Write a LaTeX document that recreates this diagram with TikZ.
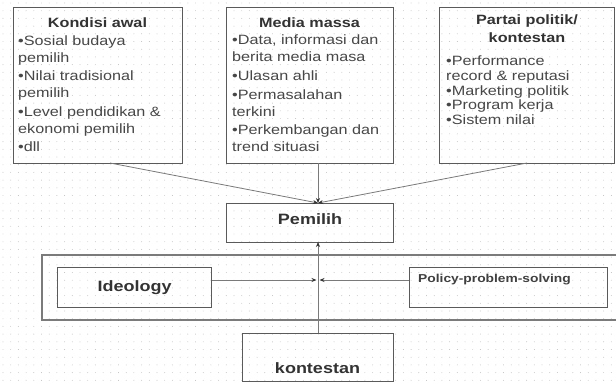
\documentclass[tikz,border=0pt]{standalone}
\usepackage{fontspec}
\setmainfont[FakeStretch=1.2]{Liberation Sans}
\usetikzlibrary{arrows.meta}
\definecolor{boxline}{HTML}{5A5A5A}
\definecolor{linkline}{HTML}{7A7A7A}
\definecolor{griddot}{HTML}{BDBDBD}
\tikzset{
  frame/.style={draw=boxline, line width=1.2pt, inner sep=0pt},
  band/.style={draw=boxline!80, line width=1.6pt},
  title/.style={inner sep=0pt, font=\fontsize{13.5}{18}\selectfont\bfseries, align=center, text=black!80},
  body/.style={inner sep=0pt, font=\fontsize{13.5}{17}\selectfont, align=left, text=black!72},
  label/.style={inner sep=0pt, font=\fontsize{15}{18}\selectfont\bfseries, text=black!80},
  link/.style={draw=linkline, line width=0.8pt, -{Stealth[length=5pt,width=4pt,black!80]}},
}
\begin{document}
\begin{tikzpicture}[x=1pt,y=-1pt]
\useasboundingbox (0,0) rectangle (616,383);
\fill[white] (0,0) rectangle (616,383);
% dotted paper
\foreach \i in {0,...,80} {
  \foreach \j in {0,...,49} {
    \fill[griddot] (3+7.7*\i,3+7.7*\j) circle (0.45pt);
  }
}

% upper boxes
\node[frame, minimum width=169pt, minimum height=156pt, anchor=north west] (kondisi) at (13,7) {};
\node[frame, minimum width=167pt, minimum height=156pt, anchor=north west] (media) at (226,7) {};
\node[frame, minimum width=175pt, minimum height=156pt, anchor=north west] (partai) at (439,7) {};

\node[title, anchor=base] (kondisiT) at (97.5,27.5) {Kondisi awal};
\node[body, anchor=north west] (kondisiB) at (18,35.5)
  {•Sosial budaya\\pemilih\\[1.5pt]•Nilai tradisional\\pemilih\\[1.5pt]•Level pendidikan \&\\ekonomi pemilih\\[1.5pt]•dll};

\node[title, anchor=base] (mediaT) at (309.5,27.5) {Media massa};
\node[body, anchor=north west] (mediaB) at (232,34.5)
  {•Data, informasi dan\\berita media masa\\[2pt]•Ulasan ahli\\[2pt]•Permasalahan\\terkini\\[1.5pt]•Perkembangan dan\\trend situasi};

\node[title, anchor=north] (partaiT) at (527,14.5) {Partai politik/\\kontestan};
\node[body, anchor=north west, font=\fontsize{13.5}{14.8}\selectfont] (partaiB) at (446,55.5)
  {•Performance\\record \& reputasi\\•Marketing politik\\•Program kerja\\•Sistem nilai};

% central column
\node[frame, minimum width=167pt, minimum height=39pt, anchor=north west] (pemilih) at (226,203) {};
\node[label] (pemilihT) at (310,219) {Pemilih};

\draw[band] (618,255) -- (42,255) -- (42,320) -- (618,320);
\node[frame, minimum width=154pt, minimum height=40pt, anchor=north west] (ideology) at (57,267) {};
\node[label] (ideologyT) at (ideology.center) {Ideology};
\node[frame, minimum width=198pt, minimum height=40pt, anchor=north west] (policy) at (409,267) {};
\node[inner sep=0pt, font=\fontsize{11.5}{13}\selectfont\bfseries, text=black!75, anchor=west] (policyT) at (418,280) {Policy-problem-solving};

\node[frame, minimum width=151pt, minimum height=48pt, anchor=north west] (kontestan) at (242,333) {};
\node[label, anchor=base] (kontestanT) at (317.5,373) {kontestan};

% connectors
\coordinate (top) at (318,203);
\coordinate (mid) at (318,280);
\draw[link] (110,163) -- (top);
\draw[link] (318,163) -- (top);
\draw[link] (527,163) -- (top);
\draw[link] (318,333) -- (318,242);
\draw[link] (ideology.east |- mid) -- (316.5,280);
\draw[link] (policy.west |- mid) -- (319.5,280);
\end{tikzpicture}
\end{document}
